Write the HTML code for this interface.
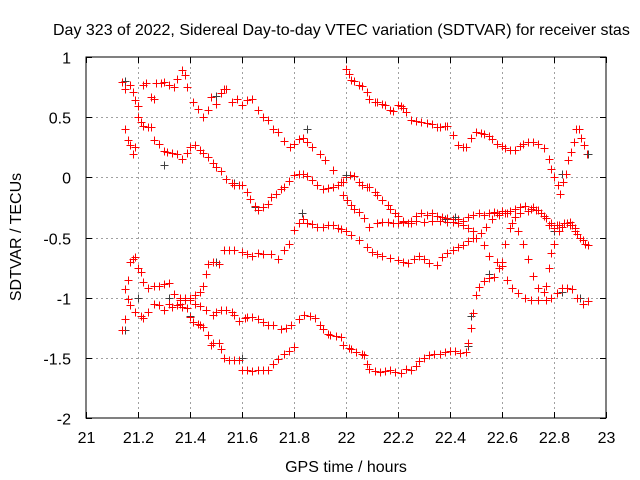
<!DOCTYPE html>
<html><head><meta charset="utf-8"><style>
html,body{margin:0;padding:0;background:#fff;}
svg{display:block;font-family:"Liberation Sans",sans-serif;}
</style></head><body>
<svg id="chart" width="640" height="480" viewBox="0 0 640 480">
<rect width="640" height="480" fill="#fff"/>
<text x="53" y="35" font-size="16" fill="#000">Day 323 of 2022, Sidereal Day-to-day VTEC variation (SDTVAR) for receiver stas</text>
<text x="346" y="472" font-size="16" text-anchor="middle">GPS time / hours</text>
<text transform="translate(21,237) rotate(-90)" font-size="16" text-anchor="middle">SDTVAR / TECUs</text>
<g id="grid"></g>
<g id="ticks"></g>
<g id="marks"></g>
<rect x="86" y="57" width="520" height="361" fill="none" stroke="#000" stroke-width="1"/>
</svg>
<script>
const xTicks = [21, 21.2, 21.4, 21.6, 21.8, 22, 22.2, 22.4, 22.6, 22.8, 23];
const xTickLabels = ["21","21.2","21.4","21.6","21.8","22","22.2","22.4","22.6","22.8","23"];
const yTicks = [1, 0.5, 0, -0.5, -1, -1.5, -2];
const yTickLabels = ["1","0.5","0","-0.5","-1","-1.5","-2"];

const t1Times = [21.14,21.15,21.17,21.18,21.19,21.2,21.22,21.23,21.25,21.26,21.27,21.29,21.3,21.32,21.34,21.35,21.37,21.38,21.39,21.41,21.43,21.45,21.47,21.48,21.5,21.52,21.53,21.54,21.56,21.58,21.6,21.62,21.64,21.66,21.68,21.7,21.72,21.74,21.76,21.785,21.8,21.82,21.835,21.85,21.87,21.9,21.92,21.95,21.98,21.99,22.005,22.02,22.03,22.05,22.07,22.09,22.12,22.14,22.16,22.18,22.2,22.22,22.25,22.27,22.3,22.33,22.36,22.39,22.41,22.43,22.45,22.47,22.49,22.5,22.53,22.55,22.58,22.6,22.62,22.64,22.66,22.69,22.71,22.74,22.77,22.79,22.81,22.83,22.85,22.87,22.89,22.91,22.93];
const t1Vals = [0.79,0.73,0.77,0.71,0.64,0.59,0.77,0.78,0.67,0.65,0.78,0.78,0.79,0.77,0.75,0.82,0.89,0.85,0.75,0.63,0.57,0.5,0.56,0.67,0.61,0.7,0.73,0.73,0.63,0.65,0.6,0.64,0.65,0.56,0.5,0.48,0.4,0.38,0.3,0.25,0.28,0.32,0.33,0.29,0.25,0.19,0.14,0.06,-0.04,-0.15,-0.19,-0.23,-0.26,-0.29,-0.34,-0.41,-0.38,-0.37,-0.37,-0.38,-0.38,-0.37,-0.36,-0.36,-0.37,-0.36,-0.36,-0.37,-0.37,-0.38,-0.4,-0.42,-0.45,-0.5,-0.56,-0.65,-0.7,-0.74,-0.85,-0.92,-0.96,-1.0,-1.02,-1.02,-1.02,-1.0,-0.96,-0.92,-0.92,-0.93,-1.0,-1.05,-1.03];

const t2Times = [21.15,21.16,21.17,21.18,21.19,21.2,21.21,21.22,21.24,21.25,21.26,21.28,21.3,21.31,21.33,21.35,21.37,21.39,21.4,21.42,21.44,21.45,21.47,21.49,21.5,21.52,21.54,21.56,21.57,21.59,21.6,21.62,21.63,21.65,21.66,21.68,21.7,21.71,21.73,21.75,21.76,21.78,21.8,21.82,21.835,21.85,21.87,21.89,21.91,21.93,21.95,21.97,21.99,22.0,22.015,22.03,22.05,22.06,22.08,22.09,22.11,22.12,22.14,22.16,22.17,22.19,22.2,22.22,22.24,22.25,22.27,22.29,22.31,22.33,22.35,22.37,22.39,22.41,22.43,22.45,22.47,22.49,22.51,22.53,22.55,22.57,22.59,22.61,22.63,22.65,22.67,22.69,22.71,22.73,22.75,22.77,22.79,22.81,22.83,22.85,22.87,22.89,22.91,22.93];
const t2Vals = [0.4,0.31,0.27,0.19,0.25,0.5,0.46,0.43,0.42,0.42,0.31,0.28,0.22,0.21,0.2,0.19,0.15,0.2,0.25,0.27,0.23,0.2,0.17,0.12,0.09,0.05,-0.01,-0.05,-0.06,-0.06,-0.06,-0.12,-0.18,-0.24,-0.27,-0.25,-0.22,-0.16,-0.14,-0.1,-0.08,-0.03,0.02,0.03,0.03,0.01,-0.02,-0.06,-0.1,-0.09,-0.08,-0.06,-0.04,0.0,0.02,0.01,-0.04,-0.06,-0.08,-0.08,-0.12,-0.15,-0.19,-0.23,-0.26,-0.3,-0.32,-0.36,-0.38,-0.38,-0.32,-0.3,-0.31,-0.3,-0.32,-0.33,-0.34,-0.35,-0.35,-0.36,-0.33,-0.31,-0.3,-0.31,-0.3,-0.29,-0.31,-0.3,-0.28,-0.26,-0.25,-0.24,-0.26,-0.27,-0.3,-0.34,-0.38,-0.4,-0.41,-0.38,-0.4,-0.47,-0.52,-0.56];

const t3Times = [21.14,21.15,21.16,21.17,21.19,21.21,21.22,21.24,21.26,21.28,21.3,21.32,21.33,21.35,21.36,21.37,21.39,21.4,21.41,21.43,21.44,21.45,21.47,21.48,21.49,21.51,21.52,21.53,21.55,21.57,21.59,21.6,21.62,21.64,21.66,21.68,21.7,21.72,21.74,21.76,21.78,21.8];
const t3Vals = [-1.27,-1.18,-1.01,-1.06,-1.12,-1.15,-1.17,-1.12,-1.05,-1.06,-1.1,-1.05,-1.08,-1.06,-1.05,-1.08,-1.09,-1.16,-1.2,-1.22,-1.23,-1.24,-1.31,-1.39,-1.38,-1.38,-1.43,-1.5,-1.52,-1.52,-1.52,-1.6,-1.6,-1.61,-1.6,-1.6,-1.6,-1.55,-1.51,-1.47,-1.44,-1.41];

const t5Times = [21.15,21.16,21.17,21.18,21.19,21.2,21.21,21.22,21.24,21.26,21.28,21.3,21.32,21.34,21.36,21.38,21.4,21.42,21.44,21.45,21.46,21.47,21.49,21.51,21.53,21.55,21.57,21.6,21.62,21.64,21.66,21.68,21.71,21.74,21.76,21.78,21.8,21.82,21.835,21.85,21.87,21.89,21.91,21.93,21.95,21.97,21.98,22.0,22.02,22.05,22.08,22.1,22.12,22.14,22.17,22.2,22.22,22.24,22.26,22.28,22.3,22.32,22.35,22.37,22.39,22.41,22.43,22.45,22.47,22.49,22.52,22.54,22.56,22.58,22.6,22.62,22.64,22.66,22.68,22.7,22.72,22.74,22.76,22.77,22.78,22.79,22.8,22.82,22.84,22.86,22.88,22.9,22.92];
const t5Vals = [-0.93,-0.85,-0.7,-0.68,-0.66,-0.75,-0.79,-0.87,-0.92,-0.9,-0.9,-0.89,-0.88,-0.97,-1.0,-1.02,-1.0,-0.98,-0.95,-0.9,-0.8,-0.72,-0.7,-0.72,-0.6,-0.6,-0.6,-0.62,-0.64,-0.65,-0.63,-0.64,-0.64,-0.68,-0.6,-0.55,-0.44,-0.38,-0.35,-0.38,-0.39,-0.41,-0.41,-0.4,-0.4,-0.42,-0.43,-0.45,-0.48,-0.52,-0.58,-0.62,-0.64,-0.65,-0.67,-0.69,-0.7,-0.71,-0.68,-0.65,-0.68,-0.71,-0.73,-0.66,-0.63,-0.6,-0.58,-0.56,-0.53,-0.5,-0.46,-0.41,-0.35,-0.3,-0.28,-0.3,-0.38,-0.45,-0.55,-0.68,-0.82,-0.92,-0.95,-0.9,-0.75,-0.63,-0.55,-0.45,-0.38,-0.37,-0.42,-0.5,-0.55];

const t6Times = [21.36,21.38,21.4,21.42,21.44,21.46,21.49,21.5,21.52,21.54,21.56,21.57,21.59,21.61,21.62,21.64,21.66,21.68,21.7,21.72,21.75,21.77,21.79,21.82,21.84,21.86,21.88,21.9,21.91,21.93,21.94,21.96,21.98,21.99,22.01,22.02,22.04,22.06,22.07,22.08,22.09,22.11,22.13,22.15,22.17,22.19,22.21,22.23,22.25,22.27,22.28,22.3,22.32,22.34,22.36,22.38,22.4,22.42,22.44,22.46,22.47,22.48,22.49,22.5,22.51,22.53,22.55,22.57,22.59,22.6,22.61,22.63,22.65,22.67,22.7,22.72,22.74,22.76,22.78,22.8,22.82,22.84,22.86,22.88,22.9];
const t6Vals = [-1.02,-1.0,-1.02,-1.05,-1.07,-1.1,-1.14,-1.12,-1.1,-1.1,-1.12,-1.14,-1.19,-1.17,-1.16,-1.16,-1.18,-1.2,-1.23,-1.23,-1.26,-1.25,-1.23,-1.18,-1.14,-1.15,-1.17,-1.23,-1.26,-1.3,-1.31,-1.32,-1.33,-1.39,-1.42,-1.43,-1.45,-1.47,-1.48,-1.55,-1.59,-1.61,-1.62,-1.61,-1.6,-1.62,-1.63,-1.59,-1.6,-1.57,-1.53,-1.5,-1.48,-1.47,-1.47,-1.45,-1.44,-1.44,-1.46,-1.45,-1.38,-1.25,-1.13,-0.98,-0.91,-0.86,-0.84,-0.83,-0.75,-0.7,-0.55,-0.42,-0.33,-0.3,-0.28,-0.25,-0.27,-0.32,-0.4,-0.42,-0.4,-0.38,-0.4,-0.45,-0.5];

const t7Times = [22.0,22.01,22.02,22.03,22.05,22.06,22.08,22.09,22.11,22.12,22.14,22.15,22.17,22.18,22.2,22.21,22.22,22.23,22.25,22.27,22.29,22.31,22.33,22.35,22.36,22.38,22.39,22.41,22.43,22.45,22.46,22.48,22.5,22.52,22.53,22.55,22.56,22.58,22.6,22.61,22.63,22.65,22.67,22.68,22.7,22.72,22.74,22.76,22.78,22.79,22.8,22.815,22.825,22.835,22.845,22.855,22.865,22.875,22.885,22.895,22.905,22.915,22.925];
const t7Vals = [0.9,0.86,0.81,0.8,0.77,0.76,0.71,0.65,0.63,0.63,0.61,0.6,0.56,0.55,0.6,0.59,0.58,0.54,0.48,0.47,0.46,0.45,0.44,0.42,0.42,0.43,0.43,0.35,0.27,0.25,0.25,0.33,0.38,0.37,0.36,0.34,0.32,0.28,0.26,0.24,0.23,0.23,0.26,0.28,0.29,0.29,0.28,0.24,0.15,0.07,0.0,-0.06,-0.14,-0.04,0.03,0.14,0.21,0.29,0.4,0.4,0.33,0.27,0.19];

const greyTimes = [21.15,21.15,21.15,21.2,21.3,21.32,21.4,21.5,21.5,21.57,21.6,21.65,21.68,21.83,21.85,22.0,22.38,22.42,22.47,22.48,22.55,22.62,22.8,22.83,22.83,22.93,22.9];
const greyVals = [0.8,0.4,-1.27,-1.0,0.1,-1.0,-1.15,0.68,-0.7,-0.05,-1.5,-0.25,-1.6,-0.3,0.4,0.02,-0.35,-0.33,-1.4,-1.15,-0.8,-0.3,-0.45,0.03,-0.95,0.19,-1.0];

const NS = "http://www.w3.org/2000/svg";
const X0 = 86, X1 = 606, Y0 = 57, Y1 = 418;
function xScale(h){ return X0 + (h - 21) / 2 * (X1 - X0); }
function yScale(v){ return Y0 + (1 - v) / 3 * (Y1 - Y0); }

const grid = document.getElementById('grid');
const ticks = document.getElementById('ticks');
const marks = document.getElementById('marks');

function line(parent, x1, y1, x2, y2, stroke, dash){
  const l = document.createElementNS(NS, 'line');
  l.setAttribute('x1', x1); l.setAttribute('y1', y1);
  l.setAttribute('x2', x2); l.setAttribute('y2', y2);
  l.setAttribute('stroke', stroke); l.setAttribute('stroke-width', 1);
  if (dash) l.setAttribute('stroke-dasharray', dash);
  parent.appendChild(l);
  return l;
}

xTicks.forEach((t, i) => {
  const x = Math.round(xScale(t)) + 0.5;
  if (i > 0 && i < xTicks.length - 1) {
    const g = line(grid, x, Y0, x, Y1, '#a0a0a0', '2,3');
    
    
  }
  const tk = line(ticks, x, Y1, x, Y1 - 6, '#000');
  
  
  const tk2 = line(ticks, x, Y0, x, Y0 + 6, '#000');
  
  
  const tx = document.createElementNS(NS, 'text');
  tx.setAttribute('x', x); tx.setAttribute('y', Y1 + 25);
  tx.setAttribute('text-anchor', 'middle'); tx.setAttribute('font-size', '16');
  tx.textContent = xTickLabels[i];
  
  
  ticks.appendChild(tx);
});

yTicks.forEach((t, i) => {
  const y = Math.round(yScale(t)) + 0.5;
  if (i > 0 && i < yTicks.length - 1) {
    const g = line(grid, X0, y, X1, y, '#a0a0a0', '2,3');
    
    
  }
  const tk = line(ticks, X0, y, X0 + 6, y, '#000');
  
  
  const tk2 = line(ticks, X1, y, X1 - 6, y, '#000');
  
  
  const tx = document.createElementNS(NS, 'text');
  tx.setAttribute('x', X0 - 15); tx.setAttribute('y', y + 6);
  tx.setAttribute('text-anchor', 'end'); tx.setAttribute('font-size', '16');
  tx.textContent = yTickLabels[i];
  
  
  ticks.appendChild(tx);
});

function drawSeries(times, vals, color, name){
  const g = document.createElementNS(NS, 'g');
  
  
  let d = '';
  for (let i = 0; i < times.length; i++) {
    const x = Math.round(xScale(times[i])) + 0.5;
    const y = Math.round(yScale(vals[i])) + 0.5;
    d += 'M' + (x - 4) + ' ' + y + 'H' + (x + 4) + 'M' + x + ' ' + (y - 4) + 'V' + (y + 4);
  }
  const p = document.createElementNS(NS, 'path');
  p.setAttribute('d', d);
  p.setAttribute('stroke', color);
  p.setAttribute('stroke-width', 1);
  p.setAttribute('fill', 'none');
  
  
  g.appendChild(p);
  marks.appendChild(g);
}

drawSeries(greyTimes, greyVals, '#404040', 'series-grey');
drawSeries(t1Times, t1Vals, '#ff0000', 'series-1');
drawSeries(t2Times, t2Vals, '#ff0000', 'series-2');
drawSeries(t3Times, t3Vals, '#ff0000', 'series-3');
drawSeries(t5Times, t5Vals, '#ff0000', 'series-5');
drawSeries(t6Times, t6Vals, '#ff0000', 'series-6');
drawSeries(t7Times, t7Vals, '#ff0000', 'series-7');
drawSeries([21.2,21.5,21.83,22.0,22.42,22.93], [-1.0,0.68,-0.3,0.02,-0.33,0.19], '#404040', 'series-grey-top');
</script>
</body></html>
